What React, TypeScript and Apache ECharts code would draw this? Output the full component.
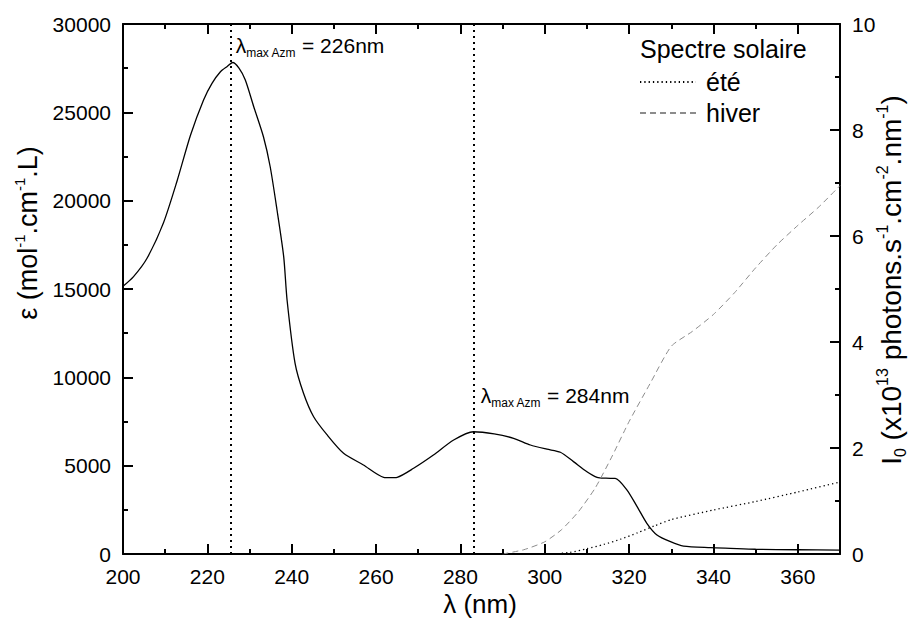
import React, { useEffect, useRef } from "react";
import * as echarts from "echarts";

// ε absorption spectrum (λ in nm, ε in mol-1.cm-1.L)
const epsLambda = [200, 202.5, 205.7, 209.6, 212.8, 216, 219.1, 221.1, 223.1, 224.7, 226, 227.5, 229, 231, 233.3, 234.9, 236.5, 238.1, 238.9, 240.8, 242.8, 245.2, 248.4, 252.3, 257, 261.8, 263.4, 265, 268.9, 273.6, 278.4, 283.1, 288, 292.6, 296.6, 300.5, 303.7, 306.8, 310, 312.4, 314.5, 316.7, 319.5, 321.9, 324.2, 326.6, 329.8, 332.9, 339.3, 344, 350, 360, 370];
const epsValues = [15150, 15700, 16740, 18750, 21100, 23700, 25700, 26640, 27300, 27600, 27820, 27500, 26830, 25320, 23620, 21920, 19500, 16830, 14380, 10790, 9100, 7770, 6740, 5700, 5040, 4340, 4320, 4340, 4850, 5600, 6450, 6920, 6800, 6550, 6170, 5930, 5760, 5230, 4660, 4340, 4290, 4280, 3620, 2680, 1740, 1080, 700, 450, 360, 320, 270, 240, 220];

// Solar spectrum, summer (été)
const summerLambda = [302, 306, 310, 314, 318, 322, 326, 330, 340, 350, 360, 370];
const summerValues = [0, 0.03, 0.1, 0.18, 0.28, 0.4, 0.53, 0.65, 0.83, 0.99, 1.17, 1.36];

// Solar spectrum, winter (hiver)
const winterLambda = [290, 295, 300, 304, 308, 312, 316, 320, 325, 330, 335, 340, 345, 350, 355, 360, 365, 370];
const winterValues = [0, 0.08, 0.23, 0.46, 0.8, 1.25, 1.85, 2.5, 3.22, 3.92, 4.2, 4.52, 4.93, 5.4, 5.83, 6.2, 6.55, 6.95];

// λmax markers
const markerLambda = [225.5, 283.2];
const annotationLabels = ["226nm", "284nm"];
const annotationPos: [number, number][] = [[226.6, 28800], [284.7, 9000]];

// axes
const xMin = 200, xMax = 370, xMajor = 20;
const yMin = 0, yMax = 30000, yMajor = 5000;
const y2Min = 0, y2Max = 10, y2Major = 2;

// tick positions (major / minor)
const xMajorTicks = [220, 240, 260, 280, 300, 320, 340, 360];
const xMinorTicks = [210, 230, 250, 270, 290, 310, 330, 350];
const yMajorTicks = [5000, 10000, 15000, 20000, 25000];
const yMinorTicks = [2500, 7500, 12500, 17500, 22500, 27500];
const y2MajorTicks = [2, 4, 6, 8];
const y2MinorTicks = [1, 3, 5, 7, 9];

const FONT = "Liberation Sans, Arial, Helvetica, sans-serif";
const GRID = { left: 123, top: 24, width: 717, height: 530 };
const MAJOR_LEN = 10;
const MINOR_LEN = 5;

function zip(xs: number[], ys: number[]) {
  return xs.map((x, i) => [x, ys[i]]);
}

export default function App() {
  const ref = useRef<HTMLDivElement>(null);
  useEffect(() => {
    if (!ref.current) return;
    const chart = echarts.init(ref.current, undefined, { renderer: "svg" });
    const black = "#000";
    const axisLine = { show: true, onZero: false, lineStyle: { color: black, width: 2 } };

    // tick lengths expressed in data units of each axis
    const xUnit = (xMax - xMin) / GRID.width;
    const yUnit = (yMax - yMin) / GRID.height;
    const y2Unit = (y2Max - y2Min) / GRID.height;

    const xTickPairs: any[] = [];
    const addX = (v: number, len: number) => {
      xTickPairs.push([{ coord: [v, yMin] }, { coord: [v, yMin + len * yUnit] }]);
      xTickPairs.push([{ coord: [v, yMax] }, { coord: [v, yMax - len * yUnit] }]);
    };
    xMajorTicks.forEach((v) => addX(v, MAJOR_LEN));
    xMinorTicks.forEach((v) => addX(v, MINOR_LEN));

    const yTickPairs: any[] = [];
    yMajorTicks.forEach((v) => yTickPairs.push([{ coord: [xMin, v] }, { coord: [xMin + MAJOR_LEN * xUnit, v] }]));
    yMinorTicks.forEach((v) => yTickPairs.push([{ coord: [xMin, v] }, { coord: [xMin + MINOR_LEN * xUnit, v] }]));

    const y2TickPairs: any[] = [];
    y2MajorTicks.forEach((v) => y2TickPairs.push([{ coord: [xMax, v] }, { coord: [xMax - MAJOR_LEN * xUnit, v] }]));
    y2MinorTicks.forEach((v) => y2TickPairs.push([{ coord: [xMax, v] }, { coord: [xMax - MINOR_LEN * xUnit, v] }]));
    void y2Unit;

    const dottedStyle = { color: black, width: 2, type: [2, 4] };
    const tickLineStyle = { color: black, width: 2, type: "solid" };

    const subRich = {
      m: { fontSize: 21, fontFamily: FONT, color: black, lineHeight: 28 },
      s: { fontSize: 12, fontFamily: FONT, color: black, lineHeight: 12, verticalAlign: "bottom" },
    };
    const yAxisBase = (position: string, min: number, max: number, interval: number) => ({
      type: "value",
      min,
      max,
      interval,
      position,
      axisLine,
      axisTick: { show: false },
      minorTick: { show: false },
      axisLabel: { fontSize: 21, color: black, fontFamily: FONT, margin: 12, formatter: (v: number) => String(v) },
      splitLine: { show: false },
    });

    chart.setOption({
      animation: false,
      backgroundColor: "#fff",
      grid: { ...GRID, containLabel: false },
      xAxis: [
        {
          type: "value",
          min: xMin,
          max: xMax,
          interval: xMajor,
          position: "bottom",
          axisLine,
          axisTick: { show: false },
          axisLabel: { fontSize: 21, color: black, fontFamily: FONT, margin: 12, showMaxLabel: false, formatter: (v: number) => String(v) },
          splitLine: { show: false },
        },
        {
          type: "value",
          min: xMin,
          max: xMax,
          interval: xMajor,
          position: "top",
          axisLine,
          axisTick: { show: false },
          axisLabel: { show: false },
          splitLine: { show: false },
        },
      ],
      yAxis: [yAxisBase("left", yMin, yMax, yMajor), yAxisBase("right", y2Min, y2Max, y2Major)],
      legend: {
        data: ["été", "hiver"],
        orient: "vertical",
        left: 639,
        top: 69,
        padding: 0,
        itemWidth: 56,
        itemHeight: 4,
        itemGap: 5,
        itemStyle: { opacity: 0, borderWidth: 0 },
        textStyle: { fontSize: 25, fontFamily: FONT, color: black, lineHeight: 26, padding: [0, 0, 0, 5] },
      },
      graphic: [
        {
          type: "text",
          x: 640,
          y: 49,
          style: { text: "Spectre solaire", font: `25px ${FONT}`, fill: black, verticalAlign: "middle", align: "left" },
        },
        {
          type: "text",
          x: 28,
          y: 233,
          rotation: Math.PI / 2,
          style: {
            text: "{m|ε (mol}{s|-1}{m|.cm}{s|-1}{m|.L)}",
            align: "center",
            verticalAlign: "middle",
            rich: {
              m: { fontSize: 27, fontFamily: FONT, fill: black, lineHeight: 32 },
              s: { fontSize: 15, fontFamily: FONT, fill: black, lineHeight: 15, verticalAlign: "top" },
            },
          },
        },
        {
          type: "text",
          x: 891,
          y: 280,
          rotation: Math.PI / 2,
          style: {
            text: "{m|I}{b|0}{m| (x10}{s|13}{m| photons.s}{s|-1}{m|.cm}{s|-2}{m|.nm}{s|-1}{m|)}",
            align: "center",
            verticalAlign: "middle",
            rich: {
              m: { fontSize: 28, fontFamily: FONT, fill: black, lineHeight: 34 },
              s: { fontSize: 16, fontFamily: FONT, fill: black, lineHeight: 16, verticalAlign: "top" },
              b: { fontSize: 16, fontFamily: FONT, fill: black, lineHeight: 16, verticalAlign: "bottom" },
            },
          },
        },
        {
          type: "text",
          x: 480,
          y: 604,
          style: { text: "λ (nm)", font: `26px ${FONT}`, fill: black, align: "center", verticalAlign: "middle" },
        },
      ],
      series: [
        {
          name: "ε",
          type: "line",
          xAxisIndex: 0,
          yAxisIndex: 0,
          data: zip(epsLambda, epsValues),
          showSymbol: false,
          symbol: "none",
          smooth: 0.25,
          itemStyle: { color: black },
          lineStyle: { color: black, width: 1.3 },
          markLine: {
            silent: true,
            symbol: ["none", "none"],
            label: { show: false },
            lineStyle: tickLineStyle,
            data: [
              ...markerLambda.map((x) => ({ xAxis: x, lineStyle: dottedStyle })),
              ...xTickPairs,
              ...yTickPairs,
            ],
          },
          markPoint: {
            silent: true,
            symbol: "circle",
            symbolSize: 1,
            itemStyle: { color: "rgba(0,0,0,0)" },
            label: {
              show: true,
              position: "right",
              distance: 0,
              formatter: (p: any) => `{m|λ}{s|max Azm}{m| = ${annotationLabels[p.dataIndex]}}`,
              rich: subRich,
            },
            data: annotationPos.map((c) => ({ coord: c })),
          },
        },
        {
          name: "été",
          type: "line",
          xAxisIndex: 0,
          yAxisIndex: 1,
          data: zip(summerLambda, summerValues),
          showSymbol: false,
          symbol: "none",
          smooth: 0.2,
          itemStyle: { color: black },
          lineStyle: { color: black, width: 1.3, type: [1.3, 3] },
          markLine: {
            silent: true,
            symbol: ["none", "none"],
            label: { show: false },
            lineStyle: tickLineStyle,
            data: y2TickPairs,
          },
        },
        {
          name: "hiver",
          type: "line",
          xAxisIndex: 0,
          yAxisIndex: 1,
          data: zip(winterLambda, winterValues),
          showSymbol: false,
          symbol: "none",
          smooth: 0.2,
          itemStyle: { color: "#8c8c8c" },
          lineStyle: { color: "#8c8c8c", width: 1, type: [6, 4] },
        },
      ],
    });
    return () => chart.dispose();
  }, []);
  return <div ref={ref} style={{ width: 909, height: 618, position: "absolute", left: 0, top: 0 }} />;
}
